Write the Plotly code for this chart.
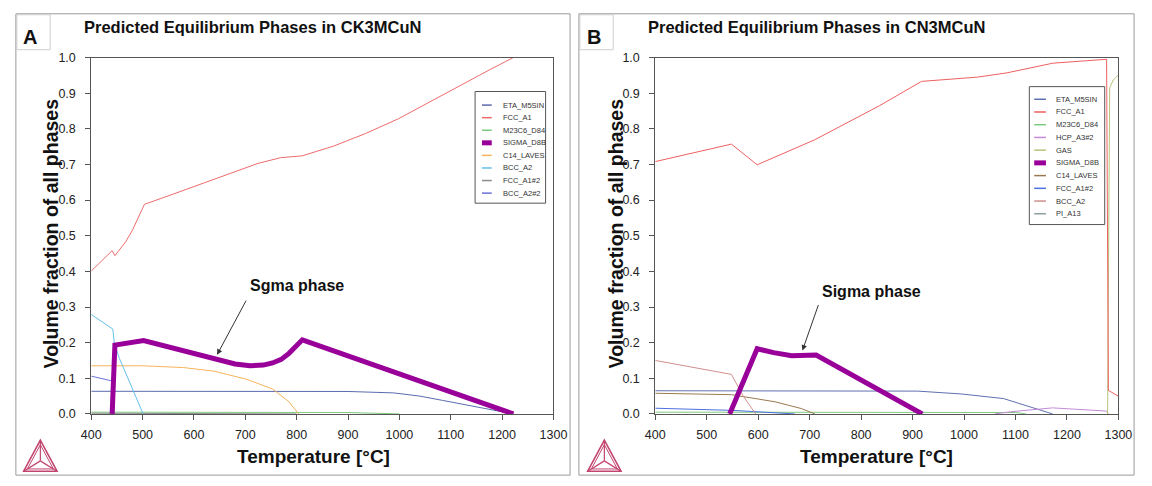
import plotly.graph_objects as go

# ---------------- data: panel A (CK3MCuN) ----------------
a_fcc_t = [400, 440.6, 446, 467, 480, 490, 503.5, 560, 616.8, 670, 724.8, 769, 810.6, 871, 934.5, 998, 1061.7, 1125, 1175, 1222]
a_fcc_v = [0.401, 0.458, 0.444, 0.483, 0.515, 0.547, 0.588, 0.617, 0.647, 0.675, 0.703, 0.719, 0.724, 0.751, 0.787, 0.828, 0.878, 0.928, 0.965, 1.0]

a_sigma_t = [440.7, 446, 502, 560, 645, 680, 709, 735, 753, 770, 785, 798, 811, 1222]
a_sigma_v = [0.0, 0.193, 0.206, 0.185, 0.152, 0.140, 0.135, 0.137, 0.143, 0.153, 0.170, 0.188, 0.208, 0.0]

a_bcc_t = [400, 442, 445, 454.7, 467, 486, 501]
a_bcc_v = [0.279, 0.238, 0.197, 0.156, 0.115, 0.052, 0.0]

a_c14_t = [400, 502, 580, 639, 703, 753, 785, 795, 804]
a_c14_v = [0.135, 0.135, 0.130, 0.120, 0.097, 0.070, 0.034, 0.015, 0.0]

a_eta_t = [400, 700, 900, 989, 1040, 1084, 1148, 1222]
a_eta_v = [0.0635, 0.0635, 0.063, 0.059, 0.050, 0.038, 0.020, 0.0]

a_bcc2_t = [400, 439]
a_bcc2_v = [0.106, 0.093]

a_m23_t = [400, 900, 1000]
a_m23_v = [0.005, 0.004, 0.0]

a_fcc2_t = [400, 800]
a_fcc2_v = [0.002, 0.0]

# ---------------- data: panel B (CN3MCuN) ----------------
b_fcc_t = [400, 548, 598, 709.6, 836, 917.5, 1026.5, 1083.6, 1172.5, 1277, 1280.5, 1300]
b_fcc_v = [0.708, 0.757, 0.699, 0.769, 0.865, 0.933, 0.945, 0.957, 0.984, 0.995, 0.066, 0.05]

b_sigma_t = [544.6, 598, 630, 665, 712.6, 918.8]
b_sigma_v = [0.0, 0.183, 0.172, 0.163, 0.165, 0.0]

b_bcc_t = [400, 548, 570, 595]
b_bcc_v = [0.150, 0.111, 0.052, 0.0]

b_c14_t = [400, 548, 633, 684, 710]
b_c14_v = [0.058, 0.054, 0.034, 0.015, 0.0]

b_eta_t = [400, 910, 995, 1077, 1172]
b_eta_v = [0.065, 0.064, 0.056, 0.043, 0.0]

b_fcc2_t = [400, 550, 671]
b_fcc2_v = [0.016, 0.010, 0.0]

b_m23_t = [400, 1100, 1120]
b_m23_v = [0.005, 0.004, 0.0]

b_hcp_t = [1060, 1090, 1172, 1277, 1280]
b_hcp_v = [0.0, 0.006, 0.017, 0.008, 0.0]

b_gas_t = [1279, 1281, 1283, 1290, 1300]
b_gas_v = [0.0, 0.5, 0.915, 0.937, 0.951]

# legend entries (name, colour) for each panel
legend_a = [("ETA_M5SIN", "#5b6bb0"), ("FCC_A1", "#ee6b6b"), ("M23C6_D84", "#7fc97f"),
            ("SIGMA_D8B", "#990099"), ("C14_LAVES", "#f7b35c"), ("BCC_A2", "#66bfea"),
            ("FCC_A1#2", "#8c8c8c"), ("BCC_A2#2", "#6b72d9")]
legend_b = [("ETA_M5SIN", "#6070b0"), ("FCC_A1", "#ee6060"), ("M23C6_D84", "#7fc97f"),
            ("HCP_A3#2", "#c48ad6"), ("GAS", "#b5c47a"), ("SIGMA_D8B", "#990099"),
            ("C14_LAVES", "#9b7a50"), ("FCC_A1#2", "#4d6fe0"), ("BCC_A2", "#cf8f8f"),
            ("PI_A13", "#8fa0a0")]
ca = dict(legend_a)
cb = dict(legend_b)

x_ticks = [400, 500, 600, 700, 800, 900, 1000, 1100, 1200, 1300]

W, H = 1152, 486
FONT = "Liberation Sans, Arial, sans-serif"


def px(x):
    return x / W


def py(y):
    return 1 - y / H


fig = go.Figure()


def add_line(t, v, color, width, xa, ya):
    fig.add_trace(go.Scatter(x=t, y=v, mode="lines", line=dict(color=color, width=width),
                             xaxis=xa, yaxis=ya, showlegend=False, hoverinfo="skip"))


# panel A curves
add_line(a_m23_t, a_m23_v, ca["M23C6_D84"], 1, "x", "y")
add_line(a_fcc2_t, a_fcc2_v, ca["FCC_A1#2"], 1, "x", "y")
add_line(a_eta_t, a_eta_v, ca["ETA_M5SIN"], 1, "x", "y")
add_line(a_bcc2_t, a_bcc2_v, ca["BCC_A2#2"], 1, "x", "y")
add_line(a_c14_t, a_c14_v, ca["C14_LAVES"], 1, "x", "y")
add_line(a_bcc_t, a_bcc_v, ca["BCC_A2"], 1, "x", "y")
add_line(a_fcc_t, a_fcc_v, ca["FCC_A1"], 1, "x", "y")
add_line(a_sigma_t, a_sigma_v, ca["SIGMA_D8B"], 5, "x", "y")

# panel B curves
add_line(b_m23_t, b_m23_v, cb["M23C6_D84"], 1, "x2", "y2")
add_line(b_fcc2_t, b_fcc2_v, cb["FCC_A1#2"], 1, "x2", "y2")
add_line(b_eta_t, b_eta_v, cb["ETA_M5SIN"], 1, "x2", "y2")
add_line(b_c14_t, b_c14_v, cb["C14_LAVES"], 1, "x2", "y2")
add_line(b_bcc_t, b_bcc_v, cb["BCC_A2"], 1, "x2", "y2")
add_line(b_hcp_t, b_hcp_v, cb["HCP_A3#2"], 1, "x2", "y2")
add_line(b_gas_t, b_gas_v, cb["GAS"], 1, "x2", "y2")
add_line(b_fcc_t, b_fcc_v, cb["FCC_A1"], 1, "x2", "y2")
add_line(b_sigma_t, b_sigma_v, cb["SIGMA_D8B"], 5, "x2", "y2")

axis_common = dict(showgrid=False, zeroline=False, showline=True, mirror=True,
                   linecolor="#555", linewidth=1, ticks="outside", ticklen=5,
                   tickcolor="#555", tickfont=dict(family=FONT, size=12.5, color="#222"))
xa_common = dict(range=[400, 1300], tickvals=x_ticks, ticklabelstandoff=4, **axis_common)
ya_common = dict(range=[0, 1.0], dtick=0.1, tickformat=".1f", ticklabelstandoff=7, **axis_common)

plot_top, plot_bot = 52, 419
fig.update_layout(
    width=W, height=H, autosize=False,
    margin=dict(l=0, r=0, t=0, b=0),
    paper_bgcolor="white", plot_bgcolor="white",
    xaxis=dict(domain=[px(83), px(555)], anchor="y", **xa_common),
    yaxis=dict(domain=[py(plot_bot), py(plot_top)], anchor="x", **ya_common),
    xaxis2=dict(domain=[px(659), px(1132)], anchor="y2", **xa_common),
    yaxis2=dict(domain=[py(plot_bot), py(plot_top)], anchor="x2", **ya_common),
    showlegend=False,
)

shapes = []
annotations = []


def rect(x0, y0, x1, y1, line_color="#9a9a9a", fill=None, width=1):
    shapes.append(dict(type="rect", xref="paper", yref="paper",
                       x0=px(x0), x1=px(x1), y0=py(y1), y1=py(y0),
                       line=dict(color=line_color, width=width),
                       fillcolor=fill if fill else "rgba(0,0,0,0)", layer="above"))


def text(x, y, s, size, bold=False, color="#111", angle=0, xanchor="center"):
    annotations.append(dict(xref="paper", yref="paper", x=px(x), y=py(y), text=f"<b>{s}</b>" if bold else s,
                            showarrow=False, xanchor=xanchor, yanchor="middle", textangle=angle,
                            font=dict(family=FONT, size=size, color=color)))


def logo(cx, base_y, half_w, h, color="#c2456e"):
    ax_, ay_ = cx, base_y - h
    lx, ly = cx - half_w, base_y
    rx, ry = cx + half_w, base_y
    gx, gy = cx, base_y - h / 3
    outer = f"M {px(ax_)},{py(ay_)} L {px(lx)},{py(ly)} L {px(rx)},{py(ry)} Z"
    shapes.append(dict(type="path", xref="paper", yref="paper", path=outer,
                       line=dict(color=color, width=1.6)))
    # inner triangle
    k = 0.78
    ix = [gx + (p - gx) * k for p in (ax_, lx, rx)]
    iy = [gy + (p - gy) * k for p in (ay_, ly, ry)]
    inner = f"M {px(ix[0])},{py(iy[0])} L {px(ix[1])},{py(iy[1])} L {px(ix[2])},{py(iy[2])} Z"
    shapes.append(dict(type="path", xref="paper", yref="paper", path=inner,
                       line=dict(color=color, width=1)))
    for vx, vy in ((ax_, ay_), (lx, ly), (rx, ry)):
        shapes.append(dict(type="line", xref="paper", yref="paper",
                           x0=px(vx), y0=py(vy), x1=px(gx), y1=py(gy),
                           line=dict(color=color, width=1.2)))


def legend_box(entries, x0, y0, x1, y1, first_y, step, lx0, lx1, tx):
    rect(x0, y0, x1, y1, line_color="#555", fill="white")
    for i, (name, col) in enumerate(entries):
        yy = first_y + i * step
        w = 5 if name == "SIGMA_D8B" else 1.5
        shapes.append(dict(type="line", xref="paper", yref="paper",
                           x0=px(lx0), x1=px(lx1), y0=py(yy), y1=py(yy),
                           line=dict(color=col, width=w), layer="above"))
        text(tx, yy, name, 7.5, color="#333", xanchor="left")


# panel frames and letter boxes
rect(6, 7, 572, 482)
rect(581, 7, 1148, 482)
rect(7, 8, 41, 44, line_color="#cfcfcf")
rect(582, 8, 616, 44, line_color="#cfcfcf")
text(20, 31, "A", 20, bold=True)
text(596, 31, "B", 20, bold=True)

# titles
text(248, 21, "Predicted Equilibrium Phases in CK3MCuN", 16.5, bold=True)
text(824, 21, "Predicted Equilibrium Phases in CN3MCuN", 16.5, bold=True)

# axis titles
text(42, 233, "Volume fraction of all phases", 19.5, bold=True, angle=-90)
text(619, 233, "Volume fraction of all phases", 19.5, bold=True, angle=-90)
text(310, 463, "Temperature [°C]", 19, bold=True)
text(885, 463, "Temperature [°C]", 19, bold=True)

# sigma labels with arrows
text(293, 287, "Sgma phase", 16, bold=True)
text(880, 293, "Sigma phase", 16, bold=True)
annotations.append(dict(xref="x", yref="y", axref="x", ayref="y", x=645, y=0.166, ax=703, ay=0.322,
                        text="", showarrow=True, arrowhead=2, arrowsize=1.1, arrowwidth=1, arrowcolor="#333"))
annotations.append(dict(xref="x2", yref="y2", axref="x2", ayref="y2", x=686, y=0.178, ax=718, ay=0.31,
                        text="", showarrow=True, arrowhead=2, arrowsize=1.1, arrowwidth=1, arrowcolor="#333"))

# legends
legend_box(legend_a, 475, 87, 547, 202, 101, 12.95, 482, 492, 501)
legend_box(legend_b, 1041, 82, 1118, 224, 95, 13.1, 1046, 1058, 1066)

# logos
logo(31, 478, 17, 32)
logo(607, 478, 17, 32)

fig.update_layout(shapes=shapes, annotations=annotations)
fig.write_html("out.html")

# strip the default page margin so the figure sits flush in the window
with open("out.html", encoding="utf-8") as fh:
    page = fh.read()
page = page.replace("<head>", "<head><style>html,body{margin:0;padding:0;overflow:hidden;}</style>", 1)
with open("out.html", "w", encoding="utf-8") as fh:
    fh.write(page)
